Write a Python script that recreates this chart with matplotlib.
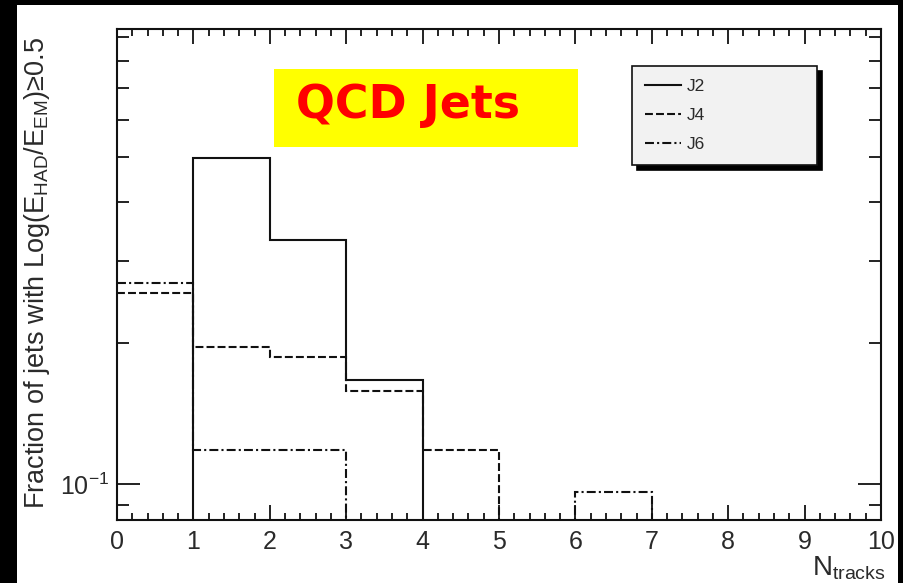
import numpy as np
import matplotlib
matplotlib.use('Agg')
import matplotlib.pyplot as plt
from matplotlib.patches import Rectangle
from matplotlib.ticker import LogLocator, NullFormatter, MultipleLocator

plt.rcParams['font.family'] = ['Liberation Sans', 'DejaVu Sans']
plt.rcParams['mathtext.fontset'] = 'custom'
plt.rcParams['mathtext.rm'] = 'Liberation Sans'
plt.rcParams['mathtext.it'] = 'Liberation Sans:italic'
plt.rcParams['mathtext.bf'] = 'Liberation Sans:bold'

# bin edges in N_tracks and fraction per bin (0 = empty bin)
edges = np.arange(0, 11)
j2 = [0, 0.497, 0.332, 0.167, 0, 0, 0, 0, 0, 0]
j4 = [0.256, 0.196, 0.187, 0.158, 0.118, 0, 0, 0, 0, 0]
j6 = [0.269, 0.118, 0.118, 0, 0, 0, 0.096, 0, 0, 0]
labels = ['J2', 'J4', 'J6']

txt_col = '#2a2a2a'

fig = plt.figure(figsize=(9.04, 5.83), dpi=100, facecolor='black')
# white canvas inside the black frame
fig.patches.append(Rectangle((17 / 904, 0), 881 / 904, 578 / 583,
                             transform=fig.transFigure, facecolor='white',
                             edgecolor='none', zorder=-10))

ax = fig.add_axes([117 / 904, 1 - 520 / 583, 764 / 904, 491 / 583])
ax.set_facecolor('white')

ymin, ymax = 0.0838, 0.938

def below(v):
    # empty bins are drawn under the axis like in ROOT
    v = np.asarray(v, dtype=float)
    return np.where(v > 0, v, ymin * 0.1)

styles = ['-', (0, (3.8, 1.5)), (0, (4.3, 1.5, 1.0, 1.5))]
for vals, ls, lab in zip([j2, j4, j6], styles, labels):
    ax.stairs(below(vals), edges, baseline=None, color='#111111',
              linewidth=1.5, linestyle=ls, label=lab)

ax.set_yscale('log')
ax.set_xlim(0, 10)
ax.set_ylim(ymin, ymax)

ax.xaxis.set_major_locator(MultipleLocator(1))
ax.xaxis.set_minor_locator(MultipleLocator(0.2))
ax.yaxis.set_major_locator(LogLocator(base=10))
ax.yaxis.set_minor_locator(LogLocator(base=10, subs=np.arange(2, 10)))
ax.yaxis.set_minor_formatter(NullFormatter())

for s in ax.spines.values():
    s.set_linewidth(1.5)
    s.set_color('#111111')

ax.tick_params(axis='both', which='both', direction='in', top=True, right=True,
               width=1.3, color='#111111', labelcolor=txt_col, labelsize=18)
ax.tick_params(axis='x', which='major', length=11, pad=7)
ax.tick_params(axis='x', which='minor', length=5)
ax.tick_params(axis='y', which='major', length=16.5, pad=6)
ax.tick_params(axis='y', which='minor', length=8.6)

fig.text(37 / 904, 1 - 273 / 583,
         'Fraction of jets with Log(E$_{\\rm HAD}$/E$_{\\rm EM}$)\u22650.5',
         rotation=90, ha='center', va='center', fontsize=19.5, color=txt_col)
fig.text(812 / 904, 1 - 576 / 583, r'N$_{\rm tracks}$', ha='left',
         va='baseline', fontsize=20, color=txt_col)

leg = ax.legend(loc='upper left', bbox_to_anchor=(0.674, 0.733, 0.242, 0.192),
                mode='expand', borderaxespad=0, fontsize=12.5, labelspacing=0.8,
                borderpad=0.75, handlelength=2.1, handletextpad=0.3,
                fancybox=False, facecolor='#f2f2f2', edgecolor='#111111',
                framealpha=1,
                shadow={'ox': 3.6, 'oy': -3.6, 'color': 'black', 'alpha': 1})
leg.get_frame().set_linewidth(1.2)
for t in leg.get_texts():
    t.set_color(txt_col)

# yellow title box
fig.patches.append(Rectangle((274 / 904, 1 - 147 / 583), 304 / 904, 78 / 583,
                             transform=fig.transFigure, facecolor='#ffff00',
                             edgecolor='none', zorder=3))
fig.text(408 / 904, 1 - 105 / 583, 'QCD Jets', ha='center', va='center',
         fontsize=33, fontweight='bold', color='#ff0000',
         family=['DejaVu Sans'], zorder=4)

fig.savefig('out.png', dpi=100, facecolor=fig.get_facecolor())
